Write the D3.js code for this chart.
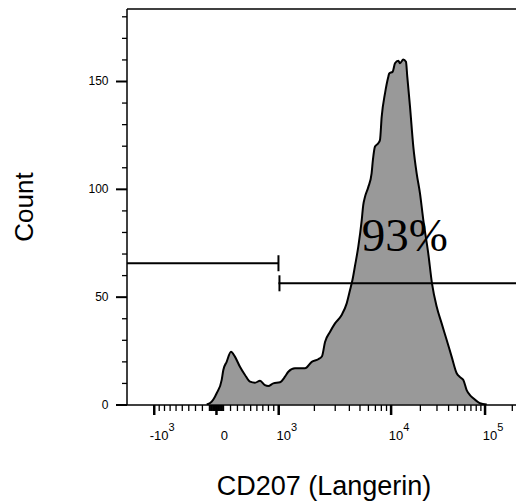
<!DOCTYPE html>
<html>
<head>
<meta charset="utf-8">
<script src="https://cdn.jsdelivr.net/npm/d3@7"></script>
<style>
body { margin: 0; background: #fff; }
svg { display: block; }
text { font-family: "Liberation Sans", Arial, sans-serif; }
</style>
</head>
<body>
<div id="chart-area"></div>
<script>
// Histogram: display channel (0-400 of the biex axis) and count
var channels = [86.3, 91.3, 94.5, 96.2, 101.2, 102.8, 106.1, 110.4, 114.3, 119.3,
    124.3, 129.3, 134.2, 139.2, 144.1, 147.4, 152.4, 159.0, 164.0, 167.3,
    173.9, 178.9, 183.8, 190.5, 197.0, 200.7, 203.7, 208.6, 213.6, 220.2,
    225.2, 228.5, 230.9, 233.4, 236.7, 240.1, 241.6, 243.3, 246.6, 249.9,
    251.2, 253.2, 256.5, 258.2, 259.9, 263.2, 266.5, 267.4, 270.8, 273.1,
    276.4, 278.1, 281.3, 284.0, 285.3, 288.0, 291.3, 294.6, 297.9, 301.2,
    306.1, 309.8, 314.5, 319.4, 324.4, 329.3, 334.3, 337.6, 340.9, 344.2,
    347.5, 350.8, 357.4, 364.1];
var counts = [0, 1.3, 3.6, 5.2, 11.4, 16.0, 19.8, 24.5, 22.2, 17.5,
    13.7, 10.6, 10.1, 11.0, 9.0, 8.6, 9.8, 10.3, 12.9, 15.2,
    16.8, 16.8, 16.8, 19.8, 21.0, 22.4, 29.0, 33.6, 37.6, 41.5,
    46.9, 53.1, 57.7, 64.2, 73.2, 85.5, 92.5, 96.2, 100.8, 107.2,
    113.4, 119.5, 121.1, 122.6, 133.4, 144.3, 152.0, 153.5, 154.3, 158.2,
    159.4, 158.2, 160.0, 158.9, 152.0, 138.1, 119.5, 107.2, 97.9, 85.5,
    70.1, 56.2, 45.3, 37.6, 29.9, 22.2, 14.5, 12.7, 11.4, 6.7,
    4.4, 2.9, 0.6, 0];

var yTicks = [0, 50, 100, 150];
var yMinorTicks = [10, 20, 30, 40, 60, 70, 80, 90, 110, 120, 130, 140, 160, 170, 180];

var xMajorTicks = [-1000, 0, 1000, 10000, 100000];
var xMajorBase = ["-10", "0", "10", "10", "10"];
var xMajorExp = ["3", "", "3", "4", "5"];
var xMinorTicks = [-900, -800, -700, -600, -500, -400, -300, -200, -100,
    -90, -80, -70, -60, -50, -40, -30, -20, -10,
    10, 20, 30, 40, 50, 60, 70, 80, 90,
    100, 200, 300, 400, 500, 600, 700, 800, 900,
    2000, 3000, 4000, 5000, 6000, 7000, 8000, 9000,
    20000, 30000, 40000, 50000, 60000, 70000, 80000, 90000, 200000];

// gates in display channels, with the count level they are drawn at
var gateFrom = [0, 157.5];
var gateTo = [157.5, 400];
var gateLevel = [65.5, 56.2];
var gateLabel = "93%";

var xTitle = "CD207 (Langerin)";
var yTitle = "Count";

// logicle (biex) transform
var T = 262144, W = 1.08, M = 4.5, A = 0;
var lg = (function() {
    var w = W / (M + A), x2 = A / (M + A), x1 = x2 + w, x0 = x2 + 2 * w;
    var b = (M + A) * Math.LN10;
    var lo = 1e-9, hi = b, d;
    for (var i = 0; i < 80; i++) {
        d = (lo + hi) / 2;
        if (2 * (Math.log(d) - Math.log(b)) + w * (b + d) > 0) hi = d; else lo = d;
    }
    var ca = Math.exp(x0 * (b + d));
    var mfa = Math.exp(b * x1) - ca / Math.exp(d * x1);
    var a = T / ((Math.exp(b) - mfa) - ca / Math.exp(d));
    var c = ca * a, f = -mfa * a;
    return { a: a, b: b, c: c, d: d, f: f, x1: x1 };
})();

function logicleS(v) {
    if (v >= lg.x1) return lg.a * Math.exp(lg.b * v) - lg.c * Math.exp(-lg.d * v) + lg.f;
    return -logicleS(2 * lg.x1 - v);
}
function toChannel(v) {
    var lo = -1, hi = 1.5;
    for (var i = 0; i < 60; i++) {
        var mid = (lo + hi) / 2;
        if (logicleS(mid) < v) lo = mid; else hi = mid;
    }
    return 400 * (lo + hi) / 2;
}

var svg = d3.select("#chart-area")
    .append("svg")
        .attr("width", 516)
        .attr("height", 502);

var pLeft = 127, pTop = 9, pBottom = 405, pRight = 520;

var x = d3.scaleLinear()
    .domain([0, 400])
    .range([119.7, 522.9]);

var y = d3.scaleLinear()
    .domain([0, 150])
    .range([404.5, 81]);

svg.append("clipPath")
    .attr("id", "plot-clip")
    .append("rect")
        .attr("x", pLeft)
        .attr("y", pTop)
        .attr("width", pRight - pLeft)
        .attr("height", pBottom - pTop);

var plot = svg.append("g").attr("clip-path", "url(#plot-clip)");

var hist = channels.map(function(c, i) { return { c: c, n: counts[i] }; });

var area = d3.area()
    .x(function(d) { return x(d.c); })
    .y0(y(0))
    .y1(function(d) { return y(d.n); })
    .curve(d3.curveMonotoneX);

var line = d3.line()
    .x(function(d) { return x(d.c); })
    .y(function(d) { return y(d.n); })
    .curve(d3.curveMonotoneX);

plot.append("path")
    .datum(hist)
    .attr("d", area)
    .attr("fill", "#999999");

plot.append("path")
    .datum(hist)
    .attr("d", line)
    .attr("fill", "none")
    .attr("stroke", "#000")
    .attr("stroke-width", 2)
    .attr("stroke-linejoin", "round");

// gates
var gates = gateFrom.map(function(g, i) { return { from: g, to: gateTo[i], n: gateLevel[i] }; });

plot.selectAll(".gate")
    .data(gates)
    .enter().append("line")
        .attr("class", "gate")
        .attr("x1", function(d) { return x(d.from); })
        .attr("x2", function(d) { return x(d.to); })
        .attr("y1", function(d) { return y(d.n); })
        .attr("y2", function(d) { return y(d.n); })
        .attr("stroke", "#000")
        .attr("stroke-width", 2);

// end caps where the two gates meet
plot.append("line")
    .attr("x1", x(gateTo[0])).attr("x2", x(gateTo[0]))
    .attr("y1", y(gateLevel[0]) - 8).attr("y2", y(gateLevel[0]) + 8)
    .attr("stroke", "#000").attr("stroke-width", 2);
plot.append("line")
    .attr("x1", x(gateFrom[1]) + 1).attr("x2", x(gateFrom[1]) + 1)
    .attr("y1", y(gateLevel[1]) - 8).attr("y2", y(gateLevel[1]) + 8)
    .attr("stroke", "#000").attr("stroke-width", 2);

svg.append("text")
    .attr("x", 361.7)
    .attr("y", 250.7)
    .style("font-family", "'Liberation Serif', 'Times New Roman', serif")
    .attr("font-size", "47px")
    .text(gateLabel);

// frame
svg.append("line")
    .attr("x1", pLeft).attr("x2", 516).attr("y1", pTop).attr("y2", pTop)
    .attr("stroke", "#000").attr("stroke-width", 1.5);
svg.append("line")
    .attr("x1", pLeft).attr("x2", pLeft).attr("y1", pTop).attr("y2", pBottom)
    .attr("stroke", "#000").attr("stroke-width", 1.5);
svg.append("line")
    .attr("x1", pLeft).attr("x2", 516).attr("y1", pBottom).attr("y2", pBottom)
    .attr("stroke", "#000").attr("stroke-width", 1.5);

// Y axis
var yAxis = svg.append("g")
    .attr("transform", "translate(" + pLeft + ",0)")
    .call(d3.axisLeft(y).tickValues(yTicks).tickSize(11).tickPadding(7.5));
yAxis.select(".domain").remove();
yAxis.selectAll("line").attr("stroke-width", 2);
yAxis.selectAll("text")
    .attr("font-size", "12px")
    .style("font-family", "'Liberation Sans', Arial, sans-serif");

var yMinor = svg.append("g")
    .attr("transform", "translate(" + pLeft + ",0)")
    .call(d3.axisLeft(y).tickValues(yMinorTicks).tickSize(5).tickFormat(""));
yMinor.select(".domain").remove();
yMinor.selectAll("line").attr("stroke-width", 1.3);

// X axis (biex)
var xAxis = svg.append("g").attr("class", "x axis");

xAxis.selectAll(".minor")
    .data(xMinorTicks)
    .enter().append("line")
        .attr("class", "minor")
        .attr("x1", function(d) { return x(toChannel(d)); })
        .attr("x2", function(d) { return x(toChannel(d)); })
        .attr("y1", pBottom)
        .attr("y2", pBottom + 6)
        .attr("stroke", "#000")
        .attr("stroke-width", 1.3);

xAxis.selectAll(".major")
    .data(xMajorTicks)
    .enter().append("line")
        .attr("class", "major")
        .attr("x1", function(d) { return x(toChannel(d)); })
        .attr("x2", function(d) { return x(toChannel(d)); })
        .attr("y1", pBottom)
        .attr("y2", pBottom + 10)
        .attr("stroke", "#000")
        .attr("stroke-width", 2.5);

var labels = xAxis.selectAll(".lbl")
    .data(xMajorTicks)
    .enter().append("text")
        .attr("class", "lbl")
        .attr("x", function(d) { return x(toChannel(d)) + 8; })
        .attr("y", 440)
        .attr("text-anchor", "middle")
        .attr("font-size", "13px");
labels.append("tspan")
    .text(function(d, i) { return xMajorBase[i]; });
labels.append("tspan")
    .attr("dy", -9)
    .attr("font-size", "11px")
    .text(function(d, i) { return xMajorExp[i]; });

// titles
svg.append("text")
    .attr("transform", "translate(33,207) rotate(-90)")
    .attr("text-anchor", "middle")
    .attr("font-size", "26px")
    .text(yTitle);

svg.append("text")
    .attr("x", 324)
    .attr("y", 495)
    .attr("text-anchor", "middle")
    .attr("font-size", "27px")
    .text(xTitle);
</script>
</body>
</html>
